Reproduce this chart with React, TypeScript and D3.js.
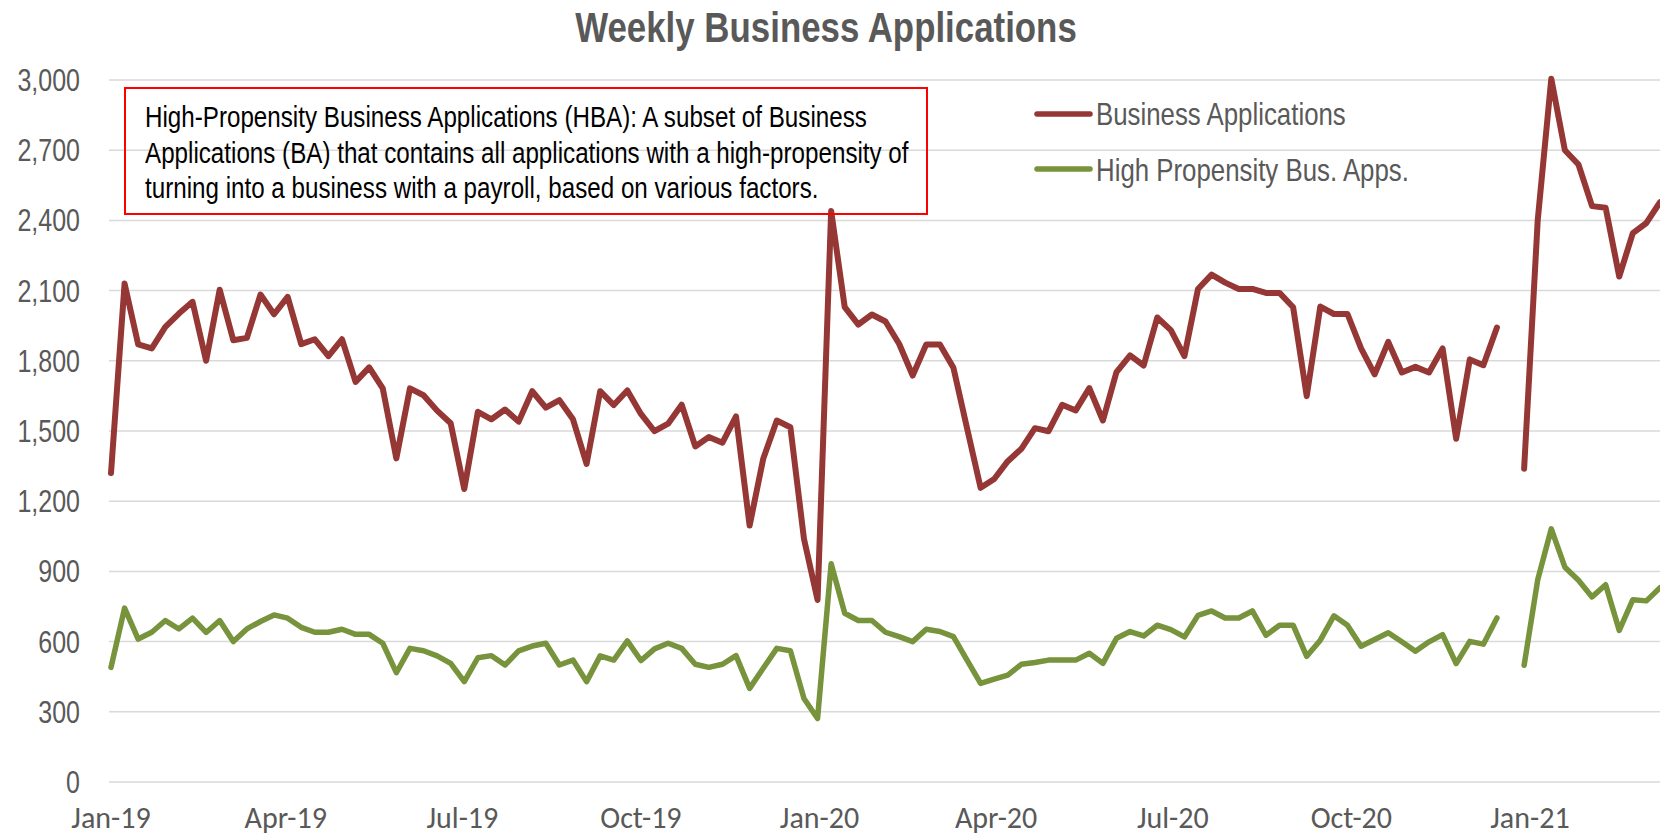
import React from 'react';
import * as d3 from 'd3';

const firstWeek = '2019-01-05';

const businessApps: (number | null)[] = [
  1320, 2130, 1870, 1853, 1945, 2002, 2052, 1800, 2104, 1888,
  1898, 2083, 1999, 2073, 1871, 1892, 1820, 1892, 1710, 1772,
  1682, 1383, 1682, 1653, 1587, 1533, 1252, 1582, 1550, 1592,
  1540, 1670, 1600, 1632, 1550, 1359, 1670, 1611, 1673, 1573,
  1499, 1531, 1612, 1434, 1474, 1450, 1562, 1096, 1381, 1545,
  1516, 1039, 778, 2440, 2029, 1955, 1998, 1968, 1873, 1737,
  1870, 1870, 1770, 1512, 1257, 1295, 1371, 1424, 1512, 1499,
  1612, 1588, 1683, 1545, 1752, 1823, 1780, 1985, 1931, 1820,
  2107, 2168, 2134, 2107, 2107, 2090, 2090, 2029, 1649, 2032,
  2000, 2000, 1853, 1742, 1881, 1750, 1774, 1750, 1853, 1467,
  1806, 1781, 1942, null, 1339, 2400, 3005, 2700, 2639, 2461,
  2454, 2160, 2346, 2389, 2478,
];

const highPropensity: (number | null)[] = [
  490, 743, 611, 640, 690, 654, 700, 639, 690, 600,
  654, 686, 714, 700, 661, 640, 640, 653, 631, 631,
  593, 467, 571, 561, 539, 507, 429, 531, 540, 500,
  560, 581, 593, 500, 521, 429, 539, 521, 603, 519,
  569, 593, 571, 503, 490, 503, 540, 400, 486, 571,
  561, 357, 271, 933, 721, 690, 690, 640, 621, 600,
  653, 643, 621, 521, 421, 440, 457, 503, 511, 521,
  521, 521, 550, 507, 614, 643, 624, 670, 651, 620,
  712, 731, 701, 701, 731, 627, 670, 670, 537, 606,
  710, 670, 580, 609, 638, 599, 559, 599, 630, 506,
  601, 589, 701, null, 499, 864, 1082, 918, 862, 791,
  843, 648, 779, 774, 830,
];

const yTicks = [0, 300, 600, 900, 1200, 1500, 1800, 2100, 2400, 2700, 3000];
const xTickCount = 9;
const seriesNames = ['Business Applications', 'High Propensity Bus. Apps.'];
const seriesColors = ['#953735', '#77933C'];
const titleText = 'Weekly Business Applications';
const noteLines = [
  'High-Propensity Business Applications (HBA): A subset of Business',
  'Applications (BA) that contains all applications with a high-propensity of',
  'turning into a business with a payroll, based on various factors.',
];

const SANS = "'Liberation Sans', Arial, sans-serif";
const AXISX = "Carlito, Calibri, Lato, sans-serif";
const CONDENSE = 0.82;

function NText(props: {
  x: number;
  y: number;
  size: number;
  fill: string;
  anchor?: string;
  bold?: boolean;
  children: React.ReactNode;
}) {
  return (
    <text
      transform={`translate(${props.x},${props.y}) scale(${CONDENSE},1)`}
      textAnchor={props.anchor || 'start'}
      fontFamily={SANS}
      fontSize={props.size}
      fontWeight={props.bold ? 'bold' : 'normal'}
      fill={props.fill}
    >
      {props.children}
    </text>
  );
}

export default function App() {
  const W = 1660;
  const H = 838;
  const plotLeft = 109;
  const plotRight = 1660;

  const d0 = d3.utcParse('%Y-%m-%d')(firstWeek) as Date;
  const dates = businessApps.map((_, i) => d3.utcDay.offset(d0, 7 * i));
  const x = d3
    .scaleUtc()
    .domain([dates[0], dates[dates.length - 1]])
    .range([111, 1660]);
  const y = d3.scaleLinear().domain([0, 3000]).range([782, 80]);
  const xTicks = d3.range(0, xTickCount).map((k) => d3.utcMonth.offset(d0, 3 * k));
  const fmtX = d3.utcFormat('%b-%y');
  const fmtY = d3.format(',');

  const lineGen = d3
    .line<number | null>()
    .defined((d) => d != null)
    .x((_, i) => x(dates[i]))
    .y((d) => y(d as number));

  const series = [businessApps, highPropensity];
  const widths = [6, 5.5];

  return (
    <div style={{ position: 'absolute', left: 0, top: 0 }}>
      <svg width={W} height={H} viewBox={`0 0 ${W} ${H}`} style={{ display: 'block', background: '#fff' }}>
        <rect x={0} y={0} width={W} height={H} fill="#fff" />
        {yTicks.map((t) => (
          <line key={'g' + t} x1={plotLeft} x2={plotRight} y1={y(t)} y2={y(t)} stroke="#d9d9d9" strokeWidth={1.5} />
        ))}
        {yTicks.map((t) => (
          <NText key={'yt' + t} x={80} y={y(t) + 11} size={30.5} fill="#595959" anchor="end">
            {fmtY(t)}
          </NText>
        ))}
        {xTicks.map((d, i) => (
          <text
            key={'xt' + i}
            x={x(d)}
            y={828}
            textAnchor="middle"
            fontFamily={AXISX}
            fontSize={30}
            fill="#595959"
          >
            {fmtX(d)}
          </text>
        ))}
        {series.map((s, k) => (
          <path
            key={'s' + k}
            d={lineGen(s) || ''}
            fill="none"
            stroke={seriesColors[k]}
            strokeWidth={widths[k]}
            strokeLinejoin="round"
            strokeLinecap="round"
          />
        ))}
        <NText x={826} y={42} size={42.5} fill="#595959" anchor="middle" bold>
          {titleText}
        </NText>
        <rect x={125} y={88} width={802} height={126} fill="none" stroke="#ff0000" strokeWidth={2} />
        {noteLines.map((l, i) => (
          <NText key={'n' + i} x={145} y={127 + i * 35.5} size={29.5} fill="#000">
            {l}
          </NText>
        ))}
        {seriesNames.map((n, k) => (
          <g key={'lg' + k}>
            <line
              x1={1037}
              x2={1090}
              y1={114 + k * 55}
              y2={114 + k * 55}
              stroke={seriesColors[k]}
              strokeWidth={5.5}
              strokeLinecap="round"
            />
            <NText x={1096} y={125 + k * 55.5} size={31.5} fill="#595959">
              {n}
            </NText>
          </g>
        ))}
      </svg>
    </div>
  );
}
